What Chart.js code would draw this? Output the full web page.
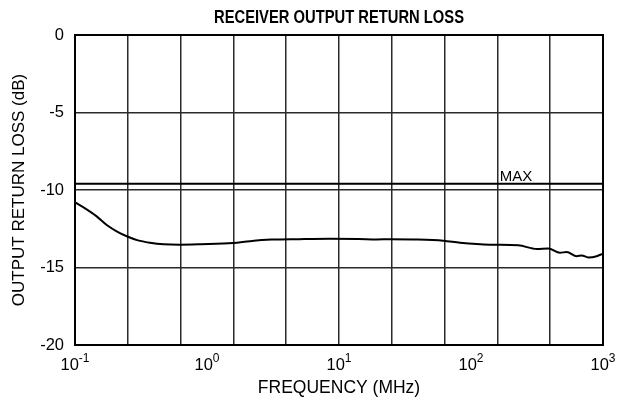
<!DOCTYPE html>
<html>
<head>
<meta charset="utf-8">
<script src="https://cdn.jsdelivr.net/npm/chart.js@4.4.1/dist/chart.umd.min.js"></script>
<style>
  html, body { margin: 0; padding: 0; background: #ffffff; }
  #wrap { width: 622px; height: 406px; }
</style>
</head>
<body>
<div id="wrap"><canvas id="c" width="622" height="406"></canvas></div>
<script>
// ---- data ----
const chartTitle = "RECEIVER OUTPUT RETURN LOSS";
const xTitle = "FREQUENCY (MHz)";
const yTitle = "OUTPUT RETURN LOSS (dB)";
const freqMHz = [0.1, 0.12, 0.146, 0.174, 0.21, 0.249, 0.3, 0.37, 0.47, 0.62, 0.9, 1.58, 2.12, 3.09, 5.0, 8.55, 14, 19.3, 24.3, 36.6, 61.7, 82.6, 139, 228, 315, 385, 472, 531, 632, 690, 774, 896, 1000];
const returnLossDb = [-10.8, -11.2, -11.7, -12.26, -12.7, -13.0, -13.25, -13.4, -13.5, -13.53, -13.5, -13.42, -13.3, -13.2, -13.17, -13.15, -13.16, -13.19, -13.17, -13.19, -13.27, -13.4, -13.53, -13.57, -13.8, -13.77, -14.05, -14.0, -14.27, -14.22, -14.35, -14.27, -14.1];
const maxLimitDb = -9.6;
const maxLabel = "MAX";
const maxLabelFreq = 165;
const xGridFreqs = [0.1, 0.251, 0.631, 1.585, 3.981, 10, 25.12, 63.1, 158.5, 398.1, 1000];
const decadeFreqs = [0.1, 1, 10, 100, 1000];
const decadeExponents = ["-1", "0", "1", "2", "3"];
const yTicks = [-20, -15, -10, -5, 0];

const FONT = "'Liberation Sans', Arial, Helvetica, sans-serif";

const textPlugin = {
  id: 'textPlugin',
  afterDraw(chart) {
    const ctx = chart.ctx;
    const xs = chart.scales.x, ys = chart.scales.y;
    const ca = chart.chartArea;
    ctx.save();
    ctx.fillStyle = '#000';
    // title (bold condensed)
    ctx.font = "bold 18px 'Liberation Sans Narrow', 'Arial Narrow', " + FONT;
    ctx.textBaseline = 'alphabetic';
    ctx.textAlign = 'left';
    const tw = ctx.measureText(chartTitle).width;
    const targetW = 250;
    const cx = (ca.left + ca.right) / 2;
    ctx.save();
    ctx.translate(cx - targetW / 2, 23);
    ctx.scale(targetW / tw, 1);
    ctx.fillText(chartTitle, 0, 0);
    ctx.restore();
    // decade tick labels with superscripts
    for (let i = 0; i < decadeFreqs.length; i++) {
      const px = xs.getPixelForValue(decadeFreqs[i]);
      ctx.font = "16.5px " + FONT;
      const bw = ctx.measureText("10").width;
      ctx.font = "12px " + FONT;
      const ew = ctx.measureText(decadeExponents[i]).width;
      const x0 = px - (bw + ew) / 2;
      ctx.textAlign = 'left';
      ctx.textBaseline = 'alphabetic';
      ctx.font = "16.5px " + FONT;
      ctx.fillText("10", x0, 370);
      ctx.font = "12px " + FONT;
      ctx.fillText(decadeExponents[i], x0 + bw, 362);
    }
    // MAX label
    ctx.font = "15px " + FONT;
    ctx.textAlign = 'left';
    ctx.textBaseline = 'alphabetic';
    ctx.fillText(maxLabel, xs.getPixelForValue(maxLabelFreq), ys.getPixelForValue(maxLimitDb) - 2.5);
    ctx.restore();
  }
};

new Chart(document.getElementById('c'), {
  type: 'line',
  data: {
    datasets: [
      {
        label: 'Return loss',
        data: freqMHz.map((f, i) => ({ x: f, y: returnLossDb[i] })),
        borderColor: '#000',
        borderWidth: 2,
        pointRadius: 0,
        cubicInterpolationMode: 'monotone',
        fill: false
      },
      {
        label: 'MAX',
        data: [{ x: freqMHz[0], y: maxLimitDb }, { x: freqMHz[freqMHz.length - 1], y: maxLimitDb }],
        borderColor: '#000',
        borderWidth: 2,
        pointRadius: 0,
        fill: false
      }
    ]
  },
  options: {
    responsive: false,
    animation: false,
    devicePixelRatio: 1,
    layout: { padding: { left: 0, right: 19, top: 35, bottom: 0 } },
    plugins: { legend: { display: false }, title: { display: false }, tooltip: { enabled: false } },
    scales: {
      x: {
        type: 'logarithmic',
        min: 0.1,
        max: 1000,
        afterBuildTicks(scale) { scale.ticks = xGridFreqs.map(v => ({ value: v })); },
        afterFit(scale) { scale.height = 61; },
        ticks: { display: false },
        grid: { color: '#2a2a2a', lineWidth: 1.5, drawTicks: false },
        border: { display: true, color: '#000', width: 2 },
        title: {
          display: true, text: xTitle, color: '#000',
          font: { family: FONT, size: 17.5 },
          padding: { top: 0, bottom: 7 }
        }
      },
      y: {
        type: 'linear',
        min: -20,
        max: 0,
        afterBuildTicks(scale) { scale.ticks = yTicks.map(v => ({ value: v })); },
        afterFit(scale) { scale.width = 75; },
        ticks: { color: '#000', font: { family: FONT, size: 16.5 }, padding: 11 },
        grid: { color: '#2a2a2a', lineWidth: 1.5, drawTicks: false },
        border: { display: true, color: '#000', width: 2 },
        title: {
          display: true, text: yTitle, color: '#000',
          font: { family: FONT, size: 17 },
          padding: { top: 9, bottom: 0 }
        }
      }
    }
  },
  plugins: [textPlugin, {
    id: 'frame',
    afterDraw(chart) {
      const { ctx, chartArea: a } = chart;
      ctx.save();
      ctx.strokeStyle = '#000';
      ctx.lineWidth = 2;
      ctx.strokeRect(a.left, a.top, a.right - a.left, a.bottom - a.top);
      ctx.restore();
    }
  }]
});
</script>
</body>
</html>
